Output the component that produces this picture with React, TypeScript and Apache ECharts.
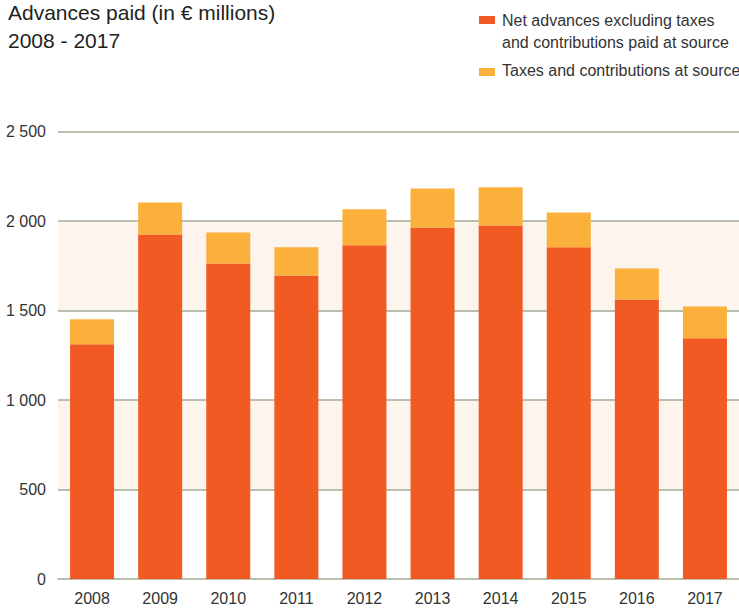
import React, { useEffect, useRef } from "react";
import * as echarts from "echarts";

const categories = ["2008", "2009", "2010", "2011", "2012", "2013", "2014", "2015", "2016", "2017"];
const netAdvances = [1311, 1925, 1763, 1696, 1864, 1964, 1975, 1853, 1562, 1345];
const taxesAtSource = [140, 179, 173, 157, 201, 218, 213, 195, 173, 178];
const seriesNames = [
  "Net advances excluding taxes and contributions paid at source",
  "Taxes and contributions at source",
];
const titleLines = ["Advances paid (in € millions)", "2008 - 2017"];
const legendLines = ["Net advances excluding taxes", "and contributions paid at source", "Taxes and contributions at source"];

const ORANGE = "#F15A22";
const YELLOW = "#FBB03B";
const GRID = "#BAC0AE";
const SANS = '"Liberation Sans", Arial, sans-serif';

function fmt(v: number): string {
  if (v >= 1000) {
    const th = Math.floor(v / 1000);
    const rest = String(v % 1000).padStart(3, "0");
    return `${th} ${rest}`;
  }
  return String(v);
}

export default function App() {
  const ref = useRef<HTMLDivElement>(null);
  useEffect(() => {
    if (!ref.current) return;
    const chart = echarts.init(ref.current, null, { renderer: "svg" });
    chart.setOption({
      animation: false,
      backgroundColor: "#ffffff",
      title: {
        text: titleLines.join("\n"),
        left: 8,
        top: -2,
        padding: 0,
        textStyle: {
          fontFamily: SANS,
          fontSize: 21,
          fontWeight: "normal",
          color: "#231F20",
          lineHeight: 28,
        },
      },
      graphic: [
        { type: "rect", shape: { x: 479, y: 16, width: 16, height: 8 }, style: { fill: ORANGE } },
        { type: "rect", shape: { x: 479, y: 68, width: 16, height: 8 }, style: { fill: YELLOW } },
        {
          type: "text",
          x: 502,
          y: 20.3,
          style: { text: legendLines[0], font: `16px ${SANS}`, fill: "#333333", verticalAlign: "middle", align: "left" },
        },
        {
          type: "text",
          x: 502,
          y: 42,
          style: { text: legendLines[1], font: `16px ${SANS}`, fill: "#333333", verticalAlign: "middle", align: "left" },
        },
        {
          type: "text",
          x: 502,
          y: 70.7,
          style: { text: legendLines[2], font: `16px ${SANS}`, fill: "#333333", verticalAlign: "middle", align: "left" },
        },
      ],
      grid: { left: 58, right: 0, top: 131.5, bottom: 30, containLabel: false },
      xAxis: {
        type: "category",
        data: categories,
        axisLine: { show: true, lineStyle: { color: GRID, width: 2 } },
        axisTick: { show: false },
        axisLabel: { fontFamily: SANS, fontSize: 16, color: "#333333", margin: 11 },
      },
      yAxis: {
        type: "value",
        min: 0,
        max: 2500,
        interval: 500,
        axisLine: { show: false },
        axisTick: { show: false },
        axisLabel: { fontFamily: SANS, fontSize: 16, color: "#333333", margin: 12, formatter: (v: number) => fmt(v) },
        splitLine: { show: true, lineStyle: { color: GRID, width: 2 } },
        splitArea: { show: true, areaStyle: { color: ["rgba(255,255,255,0)", "#FDF4EE"] } },
      },
      series: [
        {
          name: seriesNames[0],
          type: "bar",
          stack: "total",
          barWidth: 44,
          data: netAdvances,
          itemStyle: { color: ORANGE },
        },
        {
          name: seriesNames[1],
          type: "bar",
          stack: "total",
          barWidth: 44,
          data: taxesAtSource,
          itemStyle: { color: YELLOW },
        },
      ],
    });
    return () => chart.dispose();
  }, []);
  return <div ref={ref} style={{ position: "absolute", left: 0, top: 0, width: 739, height: 609 }} />;
}
